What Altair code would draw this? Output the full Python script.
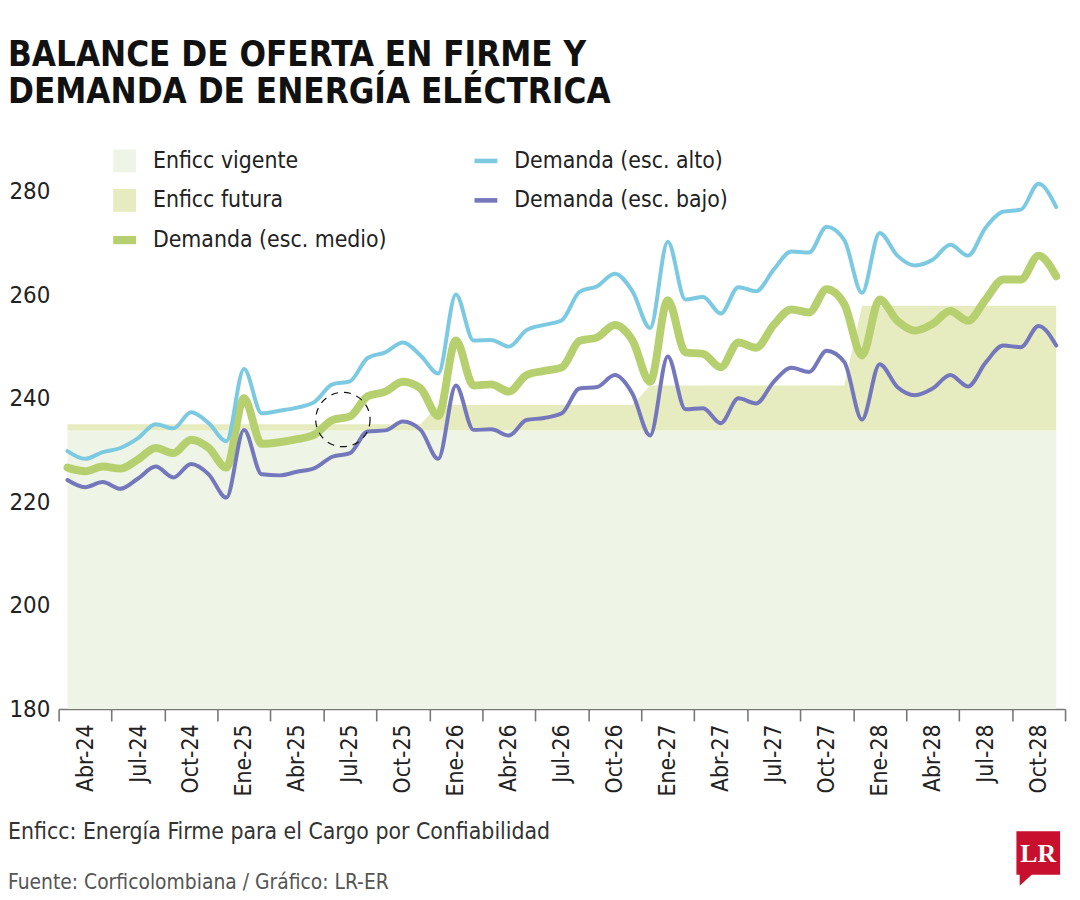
import altair as alt
import pandas as pd

# ---------------- data ----------------
meses = ["Mar-24", "Abr-24", "May-24", "Jun-24", "Jul-24", "Ago-24", "Sep-24", "Oct-24", "Nov-24", "Dic-24",
         "Ene-25", "Feb-25", "Mar-25", "Abr-25", "May-25", "Jun-25", "Jul-25", "Ago-25", "Sep-25", "Oct-25",
         "Nov-25", "Dic-25", "Ene-26", "Feb-26", "Mar-26", "Abr-26", "May-26", "Jun-26", "Jul-26", "Ago-26",
         "Sep-26", "Oct-26", "Nov-26", "Dic-26", "Ene-27", "Feb-27", "Mar-27", "Abr-27", "May-27", "Jun-27",
         "Jul-27", "Ago-27", "Sep-27", "Oct-27", "Nov-27", "Dic-27", "Ene-28", "Feb-28", "Mar-28", "Abr-28",
         "May-28", "Jun-28", "Jul-28", "Ago-28", "Sep-28", "Oct-28", "Nov-28"]

tick_labels = ["Abr-24", "Jul-24", "Oct-24", "Ene-25", "Abr-25", "Jul-25", "Oct-25", "Ene-26", "Abr-26",
               "Jul-26", "Oct-26", "Ene-27", "Abr-27", "Jul-27", "Oct-27", "Ene-28", "Abr-28", "Jul-28", "Oct-28"]

alto = [229.9, 228.4, 229.7, 230.5, 232.4, 235.1, 234.3, 237.4, 235.3, 231.8,
        245.8, 237.2, 237.7, 238.3, 239.4, 242.8, 243.4, 247.9, 249.0, 250.9,
        248.4, 244.9, 260.2, 251.3, 251.4, 250.1, 253.3, 254.3, 255.2, 260.7,
        261.8, 264.2, 260.8, 253.7, 270.4, 259.2, 259.7, 256.5, 261.6, 260.8,
        265.0, 268.5, 268.3, 273.3, 270.7, 260.5, 272.1, 267.7, 265.8, 266.9,
        269.8, 267.7, 273.1, 276.2, 276.6, 281.6, 277.1]

medio = [226.7, 226.0, 226.9, 226.5, 228.3, 230.5, 229.5, 232.1, 230.5, 226.7,
         240.1, 231.3, 231.6, 232.2, 233.1, 235.9, 236.6, 240.5, 241.4, 243.3,
         242.0, 236.7, 251.3, 242.6, 242.8, 241.4, 244.6, 245.4, 246.1, 251.2,
         251.9, 254.3, 251.3, 243.3, 259.1, 249.0, 248.7, 246.1, 250.9, 249.9,
         254.3, 257.3, 256.7, 261.2, 258.3, 248.4, 259.2, 255.1, 253.2, 254.5,
         257.0, 255.1, 259.2, 263.1, 263.1, 267.7, 263.7]

bajo = [224.3, 222.9, 223.9, 222.6, 224.6, 226.9, 224.8, 227.4, 225.4, 220.9,
        234.0, 225.4, 225.2, 225.9, 226.6, 228.8, 229.5, 233.7, 233.9, 235.6,
        234.0, 228.4, 242.6, 234.0, 234.1, 232.9, 235.9, 236.3, 237.2, 242.0,
        242.3, 244.6, 241.0, 232.9, 248.2, 238.0, 238.2, 235.3, 240.1, 239.1,
        243.3, 246.0, 245.2, 249.3, 247.1, 236.0, 246.7, 242.3, 240.7, 242.0,
        244.6, 242.4, 247.0, 250.3, 250.0, 254.1, 250.3]

enficc_vigente = [233.9, 233.9, 233.9, 233.9, 233.9, 233.9, 233.9, 233.9, 233.9, 233.9,
                  233.9, 233.9, 233.9, 233.9, 233.9, 233.9, 233.9, 233.9, 233.9, 233.9,
                  233.9, 233.9, 233.9, 233.9, 233.9, 233.9, 233.9, 233.9, 233.9, 233.9,
                  233.9, 233.9, 233.9, 233.9, 233.9, 233.9, 233.9, 233.9, 233.9, 233.9,
                  233.9, 233.9, 233.9, 233.9, 233.9, 233.9, 233.9, 233.9, 233.9, 233.9,
                  233.9, 233.9, 233.9, 233.9, 233.9, 233.9, 233.9]

enficc_futura = [235.1, 235.1, 235.1, 235.1, 235.1, 235.1, 235.1, 235.1, 235.1, 235.1,
                 235.1, 235.1, 235.1, 235.1, 235.1, 235.1, 235.1, 235.1, 235.1, 235.1,
                 235.1, 238.8, 238.8, 238.8, 238.8, 238.8, 238.8, 238.8, 238.8, 238.8,
                 238.8, 238.8, 238.8, 242.6, 242.6, 242.6, 242.6, 242.6, 242.6, 242.6,
                 242.6, 242.6, 242.6, 242.6, 242.6, 258.0, 258.0, 258.0, 258.0, 258.0,
                 258.0, 258.0, 258.0, 258.0, 258.0, 258.0, 258.0]

# annotation circle (around Jul-25 on the medium scenario)
circulo_mes = 15.6
circulo_valor = 236.0

titulo = ["BALANCE DE OFERTA EN FIRME Y", "DEMANDA DE ENERGÍA ELÉCTRICA"]
nota = "Enficc: Energía Firme para el Cargo por Confiabilidad"
fuente = "Fuente: Corficolombiana / Gráfico: LR-ER"

# legend order (legend fills column by column, two columns)
serie_names = ["Enficc vigente", "Enficc futura", "Demanda (esc. medio)", "Demanda (esc. alto)", "Demanda (esc. bajo)"]
serie_colors = ["#eef5e6", "#e6ecbf", "#b6d06f", "#7cc9e2", "#7477bc"]
serie_shapes = [
    "M-1,-1H1V1H-1Z",
    "M-1,-1H1V1H-1Z",
    "M-1,-0.36H1V0.36H-1Z",
    "M-1,-0.2H1V0.2H-1Z",
    "M-1,-0.2H1V0.2H-1Z",
]

# ---------------- styling ----------------
FONT = "DejaVu Sans Condensed, Liberation Sans Narrow, sans-serif"
TXT = "#222222"
AX = "#777777"

df = pd.DataFrame({
    "i": list(range(len(meses))),
    "mes": meses,
    "alto": alto,
    "medio": medio,
    "bajo": bajo,
    "vig": enficc_vigente,
    "fut": enficc_futura,
})

bounds = [-0.5 + 3 * k for k in range(len(tick_labels) + 1)]
label_js = "[" + ",".join("'" + t + "'" for t in tick_labels) + "]"
label_expr = label_js + "[round((datum.value + 0.5) / 3)] || ''"

month_px = 1014 / 57.0

X = alt.X("i:Q",
          scale=alt.Scale(domain=[-0.5, 56.5], nice=False, zero=False),
          axis=alt.Axis(values=bounds, labelExpr=label_expr, labelOffset=1.5 * month_px,
                        labelAngle=-90, tickSize=12, tickWidth=1.6, tickColor=AX,
                        domainColor=AX, domainWidth=1.6, grid=False, title=None,
                        labelFlush=False, labelOverlap=False, labelPadding=3,
                        labelFont=FONT, labelFontSize=23, labelColor=TXT))

YSC = alt.Scale(domain=[180, 290], nice=False, zero=False)
YAX = alt.Axis(values=[180, 200, 220, 240, 260, 280], ticks=False, domain=False, grid=False,
               title=None, labelPadding=50, labelAlign="left", labelFont=FONT,
               labelFontSize=24, labelColor=TXT)


def Y(field):
    return alt.Y(field, scale=YSC, axis=YAX)


base = alt.Chart(df)

area_vig = base.mark_area(color="#eef5e6", opacity=1).encode(
    x=X, y=Y("vig:Q"), y2=alt.datum(180))
area_fut = base.mark_area(color="#e6ecbf", opacity=1, interpolate="linear").encode(
    x=X, y=Y("fut:Q"), y2="vig:Q")

line_medio = base.mark_line(color="#b6d06f", strokeWidth=8, interpolate="monotone",
                            strokeCap="round").encode(x=X, y=Y("medio:Q"))
line_alto = base.mark_line(color="#7cc9e2", strokeWidth=4, interpolate="monotone",
                           strokeCap="round").encode(x=X, y=Y("alto:Q"))
line_bajo = base.mark_line(color="#7477bc", strokeWidth=4, interpolate="monotone",
                           strokeCap="round").encode(x=X, y=Y("bajo:Q"))

circ = alt.Chart(pd.DataFrame({"i": [circulo_mes], "v": [circulo_valor]})).mark_point(
    shape="circle", size=3000, filled=False, stroke="#111111", strokeWidth=1.2,
    strokeDash=[7, 6], opacity=1).encode(x=X, y=Y("v:Q"))

leg = alt.Legend(title=None, orient="none", legendX=55, legendY=9, columns=2,
                 columnPadding=88, rowPadding=16, symbolSize=529, labelFont=FONT,
                 labelFontSize=23, labelColor=TXT, labelOffset=17, symbolStrokeWidth=0,
                 symbolOpacity=1, padding=0, labelLimit=500)

legend_layer = alt.Chart(pd.DataFrame({"serie": serie_names})).mark_point(
    filled=True, opacity=1).encode(
    fill=alt.Fill("serie:N", scale=alt.Scale(domain=serie_names, range=serie_colors), legend=leg),
    shape=alt.Shape("serie:N", scale=alt.Scale(domain=serie_names, range=serie_shapes), legend=leg),
).transform_filter("false")


def txt(text, x, y, size, weight="normal", color=TXT, font=FONT, align="left"):
    return alt.Chart(pd.DataFrame({"t": [text]})).mark_text(
        font=font, fontSize=size, fontWeight=weight, color=color, align=align,
        baseline="alphabetic").encode(text="t:N", x=alt.value(x), y=alt.value(y))


t1 = txt(titulo[0], -51, -75, 35, "bold", "#111111")
t2 = txt(titulo[1], -51, -38, 35, "bold", "#111111")
f1 = txt(nota, -51, 704, 23, color="#333333")
f2 = txt(fuente, -51, 754, 21, color="#555555")

logo_box = alt.Chart(pd.DataFrame({"k": [0]})).mark_point(
    shape="M-1,-1L1,-1L1,1L-0.3,1L-0.85,1.5L-0.85,1L-1,1Z", size=1936, filled=True,
    fill="#c8102e", opacity=1, strokeWidth=0).encode(x=alt.value(987), y=alt.value(718))
logo_txt = txt("LR", 987, 727, 26, "bold", "#ffffff", "Liberation Serif, DejaVu Serif, serif", "center")

chart = alt.layer(
    area_vig, area_fut, line_medio, line_alto, line_bajo, circ, legend_layer,
    t1, t2, f1, f2, logo_box, logo_txt
).properties(
    width=1014, height=573,
    padding={"left": 51, "top": 130, "right": 7, "bottom": 185},
    autosize=alt.AutoSizeParams(type="none"),
    background="white",
).configure_view(stroke=None)

chart.save("out.html", embed_options={"renderer": "svg", "actions": False})
